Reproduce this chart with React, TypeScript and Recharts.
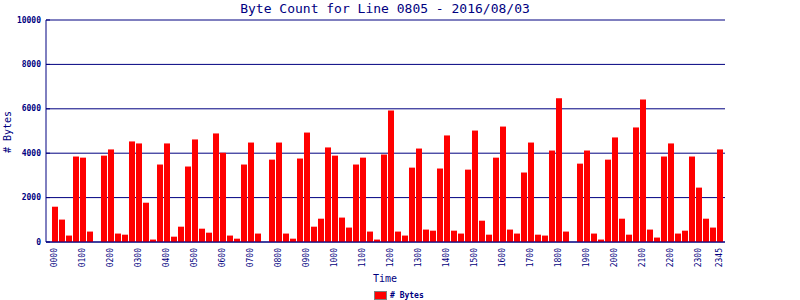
import React from 'react';
import { BarChart, Bar, XAxis, YAxis, CartesianGrid } from 'recharts';

const NAVY = '#000080';
const FONT = '"DejaVu Sans Mono", "Liberation Mono", monospace';

const title = 'Byte Count for Line 0805 - 2016/08/03';
const yAxisTitle = '# Bytes';
const xAxisTitle = 'Time';
const seriesName = '# Bytes';

const hours = ['00','01','02','03','04','05','06','07','08','09','10','11','12','13','14','15','16','17','18','19','20','21','22','23'];
const quarters = ['00','15','30','45'];
const times: string[] = [];
hours.forEach((h) => quarters.forEach((q) => times.push(h + q)));

const tickLabels = [
  '0000','0100','0200','0300','0400','0500','0600','0700','0800','0900','1000','1100',
  '1200','1300','1400','1500','1600','1700','1800','1900','2000','2100','2200','2300','2345',
];

const yTicks = [0, 2000, 4000, 6000, 8000, 10000];

const bytes = [
  1590, 1010, 290, 3850, 3800, 470, 0, 3890, 4170, 380, 330, 4530,
  4440, 1770, 110, 3490, 4440, 240, 690, 3400, 4620, 600, 420, 4890,
  4020, 290, 150, 3490, 4480, 380, 0, 3710, 4480, 380, 150, 3760,
  4930, 690, 1050, 4260, 3890, 1100, 650, 3490, 3800, 470, 110, 3940,
  5920, 470, 290, 3350, 4210, 560, 510, 3310, 4800, 510, 380, 3260,
  5020, 960, 330, 3800, 5200, 560, 380, 3130, 4480, 330, 290, 4120,
  6470, 470, 0, 3530, 4120, 380, 110, 3710, 4710, 1050, 330, 5160,
  6420, 560, 200, 3850, 4440, 380, 510, 3850, 2450, 1050, 650, 4170,
];

const data = times.map((t, i) => ({ time: t, bytes: bytes[i] }));

const XTick = (props: any) => {
  const { x, y, payload } = props;
  if (!tickLabels.includes(payload.value)) return null;
  return (
    <g transform={`translate(${x},${y}) rotate(-90)`}>
      <text
        x={0}
        y={0}
        textAnchor="end"
        dominantBaseline="central"
        fontFamily={FONT}
        fontSize={8}
        fill={NAVY}
      >
        {payload.value}
      </text>
    </g>
  );
};

const YTick = (props: any) => {
  const { x, y, payload } = props;
  return (
    <g>
      <line x1={x + 5} x2={x + 9} y1={y} y2={y} stroke={NAVY} />
      <text
        x={x}
        y={y}
        textAnchor="end"
        dominantBaseline="central"
        fontFamily={FONT}
        fontSize={8}
        fontWeight="bold"
        fill={NAVY}
      >
        {payload.value}
      </text>
    </g>
  );
};

export default function App() {
  return (
    <div style={{ position: 'absolute', left: 0, top: 0, width: 800, height: 300, background: '#fff' }}>
      <BarChart
        width={800}
        height={300}
        data={data}
        margin={{ top: 20, right: 75, left: 0, bottom: 0 }}
        barSize={6}
      >
        <CartesianGrid horizontal vertical={false} stroke={NAVY} strokeWidth={1} />
        <XAxis
          dataKey="time"
          height={58}
          interval={0}
          tick={<XTick />}
          tickLine={false}
          tickSize={6}
          tickMargin={0}
          axisLine={{ stroke: NAVY }}
          padding={{ left: 5, right: 2 }}
        />
        <YAxis
          width={46}
          domain={[0, 10000]}
          ticks={yTicks}
          interval={0}
          tick={<YTick />}
          tickLine={false}
          tickSize={5}
          tickMargin={0}
          axisLine={{ stroke: NAVY }}
        />
        <YAxis
          yAxisId="right"
          orientation="right"
          width={0}
          domain={[0, 10000]}
          ticks={yTicks}
          tick={false}
          tickLine={false}
          axisLine={{ stroke: NAVY }}
        />
        <Bar dataKey="bytes" fill="#ff0000" isAnimationActive={false} />
      </BarChart>
      <svg
        width={800}
        height={300}
        style={{ position: 'absolute', left: 0, top: 0, pointerEvents: 'none' }}
      >
        <text x={385} y={13} textAnchor="middle" fontFamily={FONT} fontSize={13} fill={NAVY}>
          {title}
        </text>
        <g transform="translate(11,132) rotate(-90)">
          <text x={0} y={0} textAnchor="middle" fontFamily={FONT} fontSize={10} fill={NAVY}>
            {yAxisTitle}
          </text>
        </g>
        <text x={385} y={282} textAnchor="middle" fontFamily={FONT} fontSize={10} fill={NAVY}>
          {xAxisTitle}
        </text>
        <rect x={374.5} y={291.5} width={12} height={8} fill="#ff0000" stroke="#808080" />
        <text x={390} y={298} fontFamily={FONT} fontSize={8} fontWeight="bold" fill={NAVY}>
          {seriesName}
        </text>
      </svg>
    </div>
  );
}
